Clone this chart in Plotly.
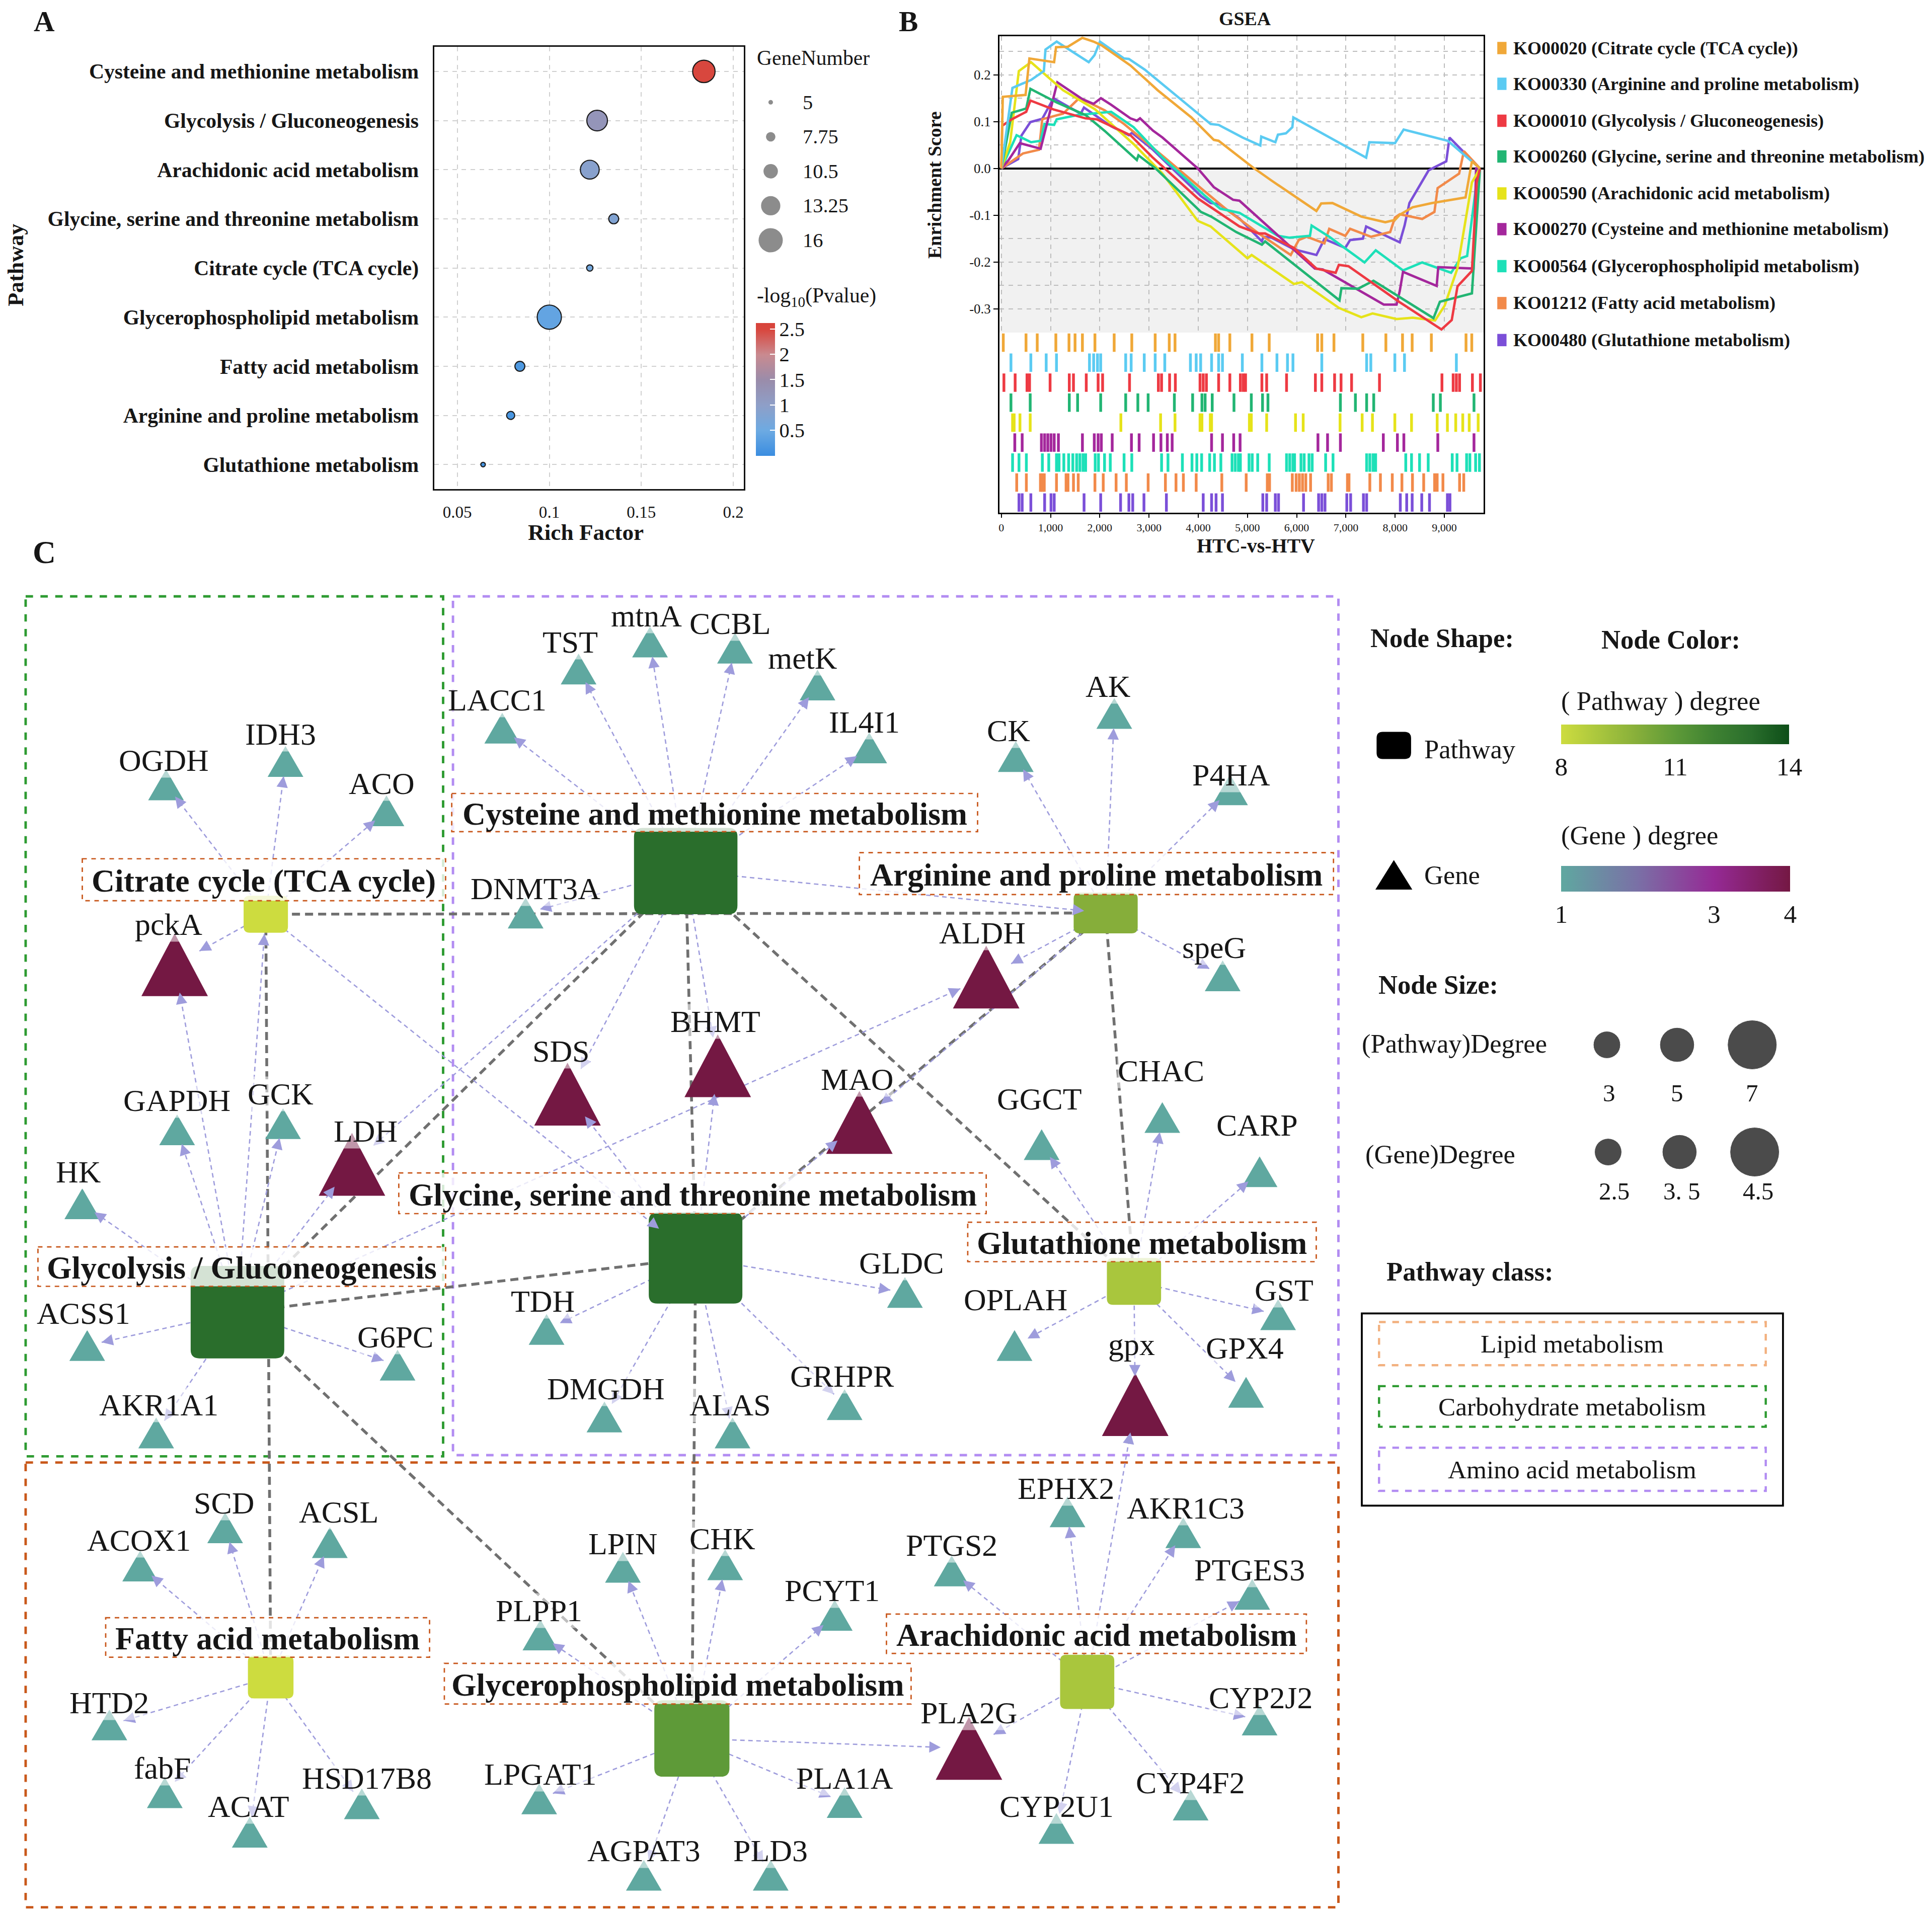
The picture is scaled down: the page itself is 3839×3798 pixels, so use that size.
import math
import plotly.graph_objects as go

# ======================= DATA =======================
# ---- Panel A: KEGG enrichment bubble chart ----
A_pathways = ["Cysteine and methionine metabolism", "Glycolysis / Gluconeogenesis",
              "Arachidonic acid metabolism", "Glycine, serine and threonine metabolism",
              "Citrate cycle (TCA cycle)", "Glycerophospholipid metabolism",
              "Fatty acid metabolism", "Arginine and proline metabolism",
              "Glutathione metabolism"]
A_rich_factor = [0.184, 0.126, 0.122, 0.135, 0.122, 0.100, 0.084, 0.079, 0.064]
A_gene_number = [15, 14, 13, 8, 6, 16, 8, 7, 5]
A_neglog10p = [2.5, 1.25, 0.9, 0.8, 0.6, 0.4, 0.2, 0.15, 0.1]
A_size_legend = [5, 7.75, 10.5, 13.25, 16]
A_size_legend_text = ["5", "7.75", "10.5", "13.25", "16"]
A_x_ticks = [0.05, 0.1, 0.15, 0.2]
A_x_ticktext = ["0.05", "0.1", "0.15", "0.2"]
A_cbar_ticks = [0.5, 1, 1.5, 2, 2.5]
A_cbar_ticktext = ["0.5", "1", "1.5", "2", "2.5"]

# ---- Panel B: GSEA running enrichment scores ----
B_names = ["KO00020 (Citrate cycle (TCA cycle))",
           "KO00330 (Arginine and proline metabolism)",
           "KO00010 (Glycolysis / Gluconeogenesis)",
           "KO00260 (Glycine, serine and threonine metabolism)",
           "KO00590 (Arachidonic acid metabolism)",
           "KO00270 (Cysteine and methionine metabolism)",
           "KO00564 (Glycerophospholipid metabolism)",
           "KO01212 (Fatty acid metabolism)",
           "KO00480 (Glutathione metabolism)"]

es_citrate_x = [0, 29, 492, 570, 1072, 1111, 1352, 1645, 1873, 2036, 2622, 3176, 3860, 4316, 4414, 5098,
                5489, 6401, 6498, 6726, 7313, 7801, 7997, 8094, 8355, 8746, 9430, 9560, 9723]
es_citrate_y = [0, 0.153, 0.157, 0.235, 0.227, 0.259, 0.26, 0.279, 0.271, 0.263, 0.22, 0.167, 0.109, 0.061,
                0.059, 0.003, -0.026, -0.091, -0.075, -0.074, -0.103, -0.115, -0.11, -0.099, -0.083,
                -0.074, -0.062, 0.015, 0]
es_arginine_x = [0, 225, 603, 864, 896, 1124, 1775, 1893, 2003, 2492, 2590, 2915, 3860, 4186, 4251, 4414,
                 4902, 5261, 5280, 5567, 5619, 5782, 5912, 5932, 7411, 7476, 7997, 8173, 9072, 9723]
es_arginine_y = [0, 0.172, 0.189, 0.208, 0.254, 0.271, 0.227, 0.242, 0.271, 0.235, 0.234, 0.211, 0.129,
                 0.102, 0.095, 0.093, 0.066, 0.049, 0.068, 0.056, 0.072, 0.075, 0.088, 0.109, 0.023,
                 0.056, 0.054, 0.083, 0.059, 0]
es_glycolysis_x = [0, 16, 212, 505, 590, 1059, 1710, 1938, 2622, 3078, 3990, 4381, 4837, 5228, 5358, 5945,
                   6401, 6791, 6857, 7052, 8094, 8941, 9150, 9267, 9560, 9658, 9723]
es_glycolysis_y = [0, 0.091, 0.105, 0.121, 0.145, 0.126, 0.107, 0.105, 0.071, 0.023, -0.064, -0.091,
                   -0.124, -0.139, -0.139, -0.17, -0.214, -0.223, -0.206, -0.209, -0.286, -0.344,
                   -0.324, -0.252, -0.219, -0.03, 0]
es_glycine_x = [0, 212, 505, 590, 1124, 1710, 2101, 2752, 2785, 3143, 4055, 4264, 4772, 5293, 5358, 6870,
                6909, 7248, 7560, 8779, 8909, 9560, 9723]
es_glycine_y = [0, 0.119, 0.128, 0.17, 0.141, 0.114, 0.08, 0.018, 0.028, -0.001, -0.093, -0.103, -0.136,
                -0.163, -0.156, -0.282, -0.256, -0.257, -0.24, -0.32, -0.285, -0.267, 0]
es_arachidonic_x = [0, 179, 355, 603, 1254, 1906, 2687, 3274, 3990, 4251, 5000, 5085, 5945, 6107, 6857,
                    7313, 7541, 8029, 8355, 8811, 9007, 9267, 9560, 9723]
es_arachidonic_y = [0, 0.056, 0.208, 0.227, 0.167, 0.126, 0.052, -0.011, -0.112, -0.124, -0.192, -0.185,
                    -0.247, -0.243, -0.298, -0.318, -0.31, -0.322, -0.319, -0.325, -0.293, -0.213,
                    -0.03, 0]
es_cysteine_x = [0, 147, 375, 798, 1137, 1645, 1873, 2023, 2231, 2622, 2752, 2818, 3078, 3274, 3990, 4316,
                 4707, 4837, 6368, 6531, 7769, 8029, 8094, 8160, 8844, 8876, 9593, 9645, 9723]
es_cysteine_y = [0, 0.018, 0.054, 0.042, 0.184, 0.148, 0.138, 0.15, 0.136, 0.107, 0.102, 0.107, 0.081,
                 0.066, 0, -0.04, -0.067, -0.069, -0.214, -0.216, -0.291, -0.291, -0.262, -0.221,
                 -0.251, -0.211, -0.214, 0, 0]
es_glycero_x = [0, 244, 309, 603, 798, 876, 1072, 1124, 1547, 1840, 2231, 2687, 3274, 4121, 4446, 4837,
                5033, 5619, 5847, 6270, 6303, 6661, 7378, 7606, 8160, 8550, 9137, 9332, 9463, 9691]
es_glycero_y = [0, 0.054, 0.071, 0.056, 0.059, 0.095, 0.093, 0.105, 0.114, 0.117, 0.121, 0.088, 0.023,
                -0.057, -0.086, -0.095, -0.107, -0.144, -0.148, -0.144, -0.122, -0.146, -0.201,
                -0.175, -0.218, -0.201, -0.223, -0.192, -0.187, 0]
es_fatty_x = [0, 440, 766, 831, 1254, 1580, 1775, 2101, 2492, 3274, 4186, 4577, 5228, 5358, 5879, 6042,
              6205, 6563, 6661, 6987, 7085, 7508, 7899, 7997, 8094, 8550, 8798, 8863, 9300, 9397, 9723]
es_fatty_y = [0, 0.032, 0.04, 0.105, 0.117, 0.15, 0.141, 0.124, 0.095, 0.027, -0.054, -0.088, -0.139,
              -0.148, -0.185, -0.153, -0.146, -0.16, -0.129, -0.144, -0.129, -0.146, -0.136, -0.105,
              -0.098, -0.108, -0.093, -0.042, -0.011, 0.037, 0]
es_glutathione_x = [0, 342, 407, 590, 831, 1059, 1612, 1678, 2231, 2590, 2655, 3078, 4055, 4251, 4414,
                    4837, 5293, 5326, 5489, 5945, 6401, 6563, 6987, 7085, 7345, 7411, 8094, 8192, 8290,
                    8681, 9039, 9104, 9723]
es_glutathione_y = [0, 0.02, 0.07, 0.099, 0.106, 0.15, 0.117, 0.13, 0.09, 0.071, 0.076, 0.04, -0.059,
                    -0.074, -0.076, -0.107, -0.156, -0.146, -0.148, -0.173, -0.185, -0.151, -0.17,
                    -0.153, -0.15, -0.124, -0.158, -0.122, -0.074, -0.004, 0.015, 0.066, 0]

hits_citrate = [39, 501, 729, 1107, 1374, 1497, 1647, 1901, 2292, 2650, 3125, 3411, 3528, 4349, 4414,
                4642, 5091, 5442, 6425, 6510, 6757, 7343, 7812, 8150, 8346, 8736, 9440, 9557]
hits_arginine = [195, 599, 911, 1120, 1790, 1875, 1953, 2018, 2526, 2637, 2903, 3125, 3320, 3841, 3958,
                 4049, 4271, 4414, 4492, 4896, 5293, 5599, 5813, 5924, 6510, 7421, 7506, 7994, 8190, 9244]
hits_glycolysis = [52, 280, 521, 573, 990, 1380, 1465, 1725, 1966, 2057, 2604, 3190, 3255, 3418, 3535,
                   4036, 4101, 4166, 4414, 4642, 4856, 4915, 4961, 5293, 5390, 5794, 6380, 6510, 6770,
                   6901, 7115, 7682, 8951, 9179, 9244, 9309, 9570, 9732]
hits_glycine = [195, 586, 1380, 1549, 2018, 2526, 2773, 2982, 3515, 3886, 4075, 4140, 4284, 4726, 5078,
                5306, 5416, 6888, 7193, 7421, 7565, 8775, 8919, 9602]
hits_arachidonic = [228, 260, 378, 586, 2428, 3235, 3528, 4036, 4075, 4245, 4271, 5039, 5078, 5390,
                    5976, 6132, 6881, 7330, 7539, 7994, 8333, 8854, 9062, 9231, 9374, 9505, 9687]
hits_cysteine = [273, 423, 814, 879, 944, 1009, 1074, 1159, 1647, 1888, 1966, 2031, 2252, 2643, 2799,
                 3092, 3242, 3372, 3470, 4271, 4492, 4720, 4850, 6432, 6627, 6888, 7760, 8046, 8177,
                 8867, 9602]
hits_glycero = [228, 358, 508, 833, 963, 1120, 1172, 1269, 1367, 1452, 1530, 1595, 1660, 1712, 1907,
                1973, 2096, 2213, 2493, 2650, 3255, 3385, 3678, 3873, 3971, 4069, 4232, 4329, 4459,
                4687, 4752, 4817, 4856, 5032, 5097, 5208, 5442, 5794, 5859, 5924, 5957, 6087, 6152,
                6250, 6315, 6588, 6738, 7421, 7486, 7552, 7604, 8216, 8333, 8496, 8672, 9160, 9257,
                9452, 9518, 9635, 9713]
hits_fatty = [312, 508, 794, 833, 872, 1120, 1315, 1354, 1465, 1562, 1901, 2070, 2331, 2539, 2982, 3333,
              3548, 3698, 3958, 4479, 4974, 5403, 5449, 5911, 5989, 6054, 6119, 6185, 6282, 6640, 6705,
              7031, 7063, 7486, 7701, 7942, 8138, 8352, 8580, 8802, 8854, 8971, 9309, 9394]
hits_glutathione = [358, 423, 599, 879, 1009, 1074, 1680, 2018, 2422, 2591, 2669, 2897, 3353, 4101, 4271,
                    4362, 4492, 5312, 5390, 5566, 5631, 6139, 6445, 6510, 6575, 7018, 7096, 7356, 7421,
                    8105, 8235, 8346, 8541, 8698, 9062, 9114]

B_es_x = [es_citrate_x, es_arginine_x, es_glycolysis_x, es_glycine_x, es_arachidonic_x,
          es_cysteine_x, es_glycero_x, es_fatty_x, es_glutathione_x]
B_es_y = [es_citrate_y, es_arginine_y, es_glycolysis_y, es_glycine_y, es_arachidonic_y,
          es_cysteine_y, es_glycero_y, es_fatty_y, es_glutathione_y]
B_hits = [hits_citrate, hits_arginine, hits_glycolysis, hits_glycine, hits_arachidonic,
          hits_cysteine, hits_glycero, hits_fatty, hits_glutathione]
B_x_ticks = [0, 1000, 2000, 3000, 4000, 5000, 6000, 7000, 8000, 9000]
B_x_ticktext = ["0", "1,000", "2,000", "3,000", "4,000", "5,000", "6,000", "7,000", "8,000", "9,000"]
B_y_ticks = [-0.3, -0.2, -0.1, 0.0, 0.1, 0.2]
B_y_ticktext = ["-0.3", "-0.2", "-0.1", "0.0", "0.1", "0.2"]

# ---- Panel C: pathway-gene network ----
pathway_ids = ["TCA", "GLYC", "CYS", "ARG", "GLYS", "GSH", "FA", "GPL", "ARA"]
pathway_names = ["Citrate cycle (TCA cycle)", "Glycolysis / Gluconeogenesis",
                 "Cysteine and methionine metabolism", "Arginine and proline metabolism",
                 "Glycine, serine and threonine metabolism", "Glutathione metabolism",
                 "Fatty acid metabolism", "Glycerophospholipid metabolism",
                 "Arachidonic acid metabolism"]
pathway_degree = [8, 13, 13, 10, 13, 9, 8, 11, 9]

gene_names = ["OGDH", "IDH3", "ACO", "pckA", "GAPDH", "GCK", "LDH", "HK", "ACSS1", "G6PC", "AKR1A1",
              "TST", "mtnA", "CCBL", "metK", "LACC1", "IL4I1", "AK", "CK", "P4HA", "DNMT3A", "ALDH",
              "speG", "SDS", "BHMT", "MAO", "GGCT", "CHAC", "CARP", "GLDC", "TDH", "OPLAH", "GST",
              "DMGDH", "ALAS", "GRHPR", "gpx", "GPX4",
              "SCD", "ACSL", "ACOX1", "HTD2", "fabF", "ACAT", "HSD17B8", "LPIN", "CHK", "PLPP1",
              "PCYT1", "LPGAT1", "AGPAT3", "PLD3", "PLA1A", "PLA2G", "PTGS2", "EPHX2", "AKR1C3",
              "PTGES3", "CYP2J2", "CYP2U1", "CYP4F2"]
high_degree_genes = ["pckA", "LDH", "ALDH", "SDS", "BHMT", "MAO", "gpx", "PLA2G"]
gene_degree = [4 if g in high_degree_genes else 1 for g in gene_names]

pathway_links = [("TCA", "ARG"), ("TCA", "FA"), ("GLYC", "CYS"), ("GLYC", "GLYS"), ("GLYC", "GPL"),
                 ("CYS", "GLYS"), ("CYS", "GSH"), ("ARG", "GLYS"), ("ARG", "GSH"),
                 ("GLYS", "GPL")]
gene_links = {
    "TCA": ["OGDH", "IDH3", "ACO", "pckA", "GLYS"],
    "GLYC": ["HK", "GAPDH", "pckA", "GCK", "TCA", "LDH", "ACSS1", "G6PC", "AKR1A1", "ALDH"],
    "CYS": ["LACC1", "TST", "mtnA", "CCBL", "metK", "IL4I1", "DNMT3A", "SDS", "BHMT", "ARG", "LDH"],
    "ARG": ["AK", "CK", "P4HA", "speG", "ALDH", "MAO"],
    "GLYS": ["SDS", "BHMT", "MAO", "TDH", "GLDC", "DMGDH", "ALAS", "GRHPR"],
    "GSH": ["GGCT", "CHAC", "CARP", "GST", "GPX4", "OPLAH", "gpx"],
    "FA": ["ACOX1", "SCD", "ACSL", "HTD2", "fabF", "ACAT", "HSD17B8"],
    "GPL": ["PLPP1", "LPIN", "CHK", "PCYT1", "LPGAT1", "AGPAT3", "PLD3", "PLA1A", "PLA2G"],
    "ARA": ["PTGS2", "EPHX2", "AKR1C3", "PTGES3", "CYP2J2", "CYP4F2", "CYP2U1", "PLA2G", "gpx"],
}
legend_pathway_degree = [3, 5, 7]
legend_gene_degree = [2.5, 3.5, 4.5]
legend_gene_degree_text = ["2.5", "3. 5", "4.5"]
pathway_classes = ["Lipid metabolism", "Carbohydrate metabolism", "Amino acid metabolism"]

# ======================= LAYOUT (canvas units: 1568 x 1551 grid) =======================
W, H = 3839, 3798
SW, SH = 1568.0, 1551.0
K = W / SW
OFF = 8 / K          # page body margin (8 px) compensation
FONT = "Liberation Serif"
INK = "#161616"


def fz(v):
    return round(v * K, 1)


def PX(x):
    return (x - OFF) / SW


def PY(y):
    return 1 - (y - OFF) / SH


# network node layout: centre x, centre y, width, height
PATH_LAYOUT = {
    "TCA": (215, 742, 36, 30), "GLYC": (192, 1065, 76, 75), "CYS": (556, 707, 84, 70),
    "ARG": (897, 741, 52, 33), "GLYS": (564, 1021, 76, 74), "GSH": (920, 1040, 44, 38),
    "FA": (219, 1361, 37, 35), "GPL": (561, 1411, 61, 62), "ARA": (882, 1365, 44, 44),
}
# label boxes: centre x, centre y, width, height
PATH_LABEL_BOX = {
    "TCA": (213.5, 714, 295, 34), "CYS": (579.5, 659.5, 427, 31), "ARG": (889.5, 709, 385, 34),
    "GLYS": (561.5, 968.5, 477, 33), "GLYC": (195.5, 1028, 331, 32), "GSH": (926.5, 1008, 283, 32),
    "FA": (216.5, 1329, 263, 32), "GPL": (549.5, 1366.5, 379, 33), "ARA": (889.5, 1326, 341, 32),
}
# gene triangle centre x, y ; label centre x, y
GENE_LAYOUT = {
    "OGDH": (134, 637, 132, 617), "IDH3": (231, 618, 227, 596), "ACO": (313, 658, 309, 636),
    "pckA": (141, 783, 136, 750), "GAPDH": (143, 917, 143, 893), "GCK": (229, 912, 227, 888),
    "LDH": (285, 945, 296, 918), "HK": (66, 977, 63, 951), "ACSS1": (70, 1092, 67, 1066),
    "G6PC": (322, 1108, 320, 1085), "AKR1A1": (126, 1163, 128, 1140),
    "TST": (469, 543, 462, 521), "mtnA": (527, 521, 524, 500), "CCBL": (596, 526, 592, 506),
    "metK": (663, 556, 651, 534), "LACC1": (407, 591, 403, 568), "IL4I1": (705, 607, 701, 586),
    "AK": (904, 579, 899, 557), "CK": (824, 614, 818, 593), "P4HA": (998, 641, 999, 629),
    "DNMT3A": (426, 741, 434, 721), "ALDH": (800, 793, 797, 757), "speG": (992, 792, 985, 769),
    "SDS": (460, 888, 455, 853), "BHMT": (582, 865, 580, 829), "MAO": (697, 911, 695, 876),
    "GGCT": (845, 929, 843, 892), "CHAC": (943, 907, 942, 869), "CARP": (1022, 951, 1020, 913),
    "GLDC": (734, 1049, 731, 1025), "TDH": (443, 1079, 440, 1056), "OPLAH": (823, 1092, 824, 1055),
    "GST": (1037, 1067, 1042, 1047), "DMGDH": (490, 1150, 491, 1127), "ALAS": (594, 1163, 592, 1140),
    "GRHPR": (685, 1140, 683, 1117), "gpx": (921, 1140, 918, 1091), "GPX4": (1011, 1130, 1010, 1094),
    "SCD": (182, 1240, 181, 1220), "ACSL": (267, 1252, 274, 1227), "ACOX1": (113, 1271, 112, 1250),
    "HTD2": (88, 1400, 88, 1382), "fabF": (133, 1455, 131, 1435), "ACAT": (202, 1487, 201, 1466),
    "HSD17B8": (293, 1464, 297, 1443), "LPIN": (505, 1272, 505, 1253), "CHK": (588, 1270, 586, 1249),
    "PLPP1": (438, 1327, 437, 1307), "PCYT1": (677, 1311, 675, 1291), "LPGAT1": (437, 1460, 438, 1440),
    "AGPAT3": (522, 1522, 522, 1502), "PLD3": (625, 1522, 625, 1502), "PLA1A": (685, 1463, 685, 1443),
    "PLA2G": (786, 1419, 786, 1390), "PTGS2": (772, 1275, 772, 1254), "EPHX2": (866, 1227, 865, 1208),
    "AKR1C3": (960, 1244, 962, 1224), "PTGES3": (1016, 1294, 1014, 1274),
    "CYP2J2": (1022, 1396, 1023, 1378), "CYP2U1": (857, 1484, 857, 1466),
    "CYP4F2": (966, 1465, 966, 1447),
}

CS_A = [[0.0, "#3A8DE0"], [0.19, "#6DAAE2"], [0.38, "#8E9FC8"], [0.57, "#9A8CAA"],
        [0.76, "#C98A90"], [0.95, "#D8473E"], [1.0, "#D8433A"]]
CS_P = [[0.0, "#CDDC3F"], [1 / 6, "#A9C63D"], [2 / 6, "#86AE3A"], [3 / 6, "#5E9A38"],
        [4 / 6, "#3F8232"], [5 / 6, "#2A6E2C"], [1.0, "#0D4E18"]]
CS_G = [[0.0, "#5FA8A0"], [1 / 3, "#7A70A6"], [2 / 3, "#952A95"], [1.0, "#741843"]]
B_colors = ["#F0A838", "#5BCBF2", "#EE3A43", "#22B573", "#E6E31A", "#A4279C", "#1DE0B8",
            "#F28A4A", "#7B4FD8"]


def hex_rgb(h):
    h = h.lstrip("#")
    return tuple(int(h[i:i + 2], 16) for i in (0, 2, 4))


def interp(cs, t):
    t = max(0.0, min(1.0, t))
    for (t0, c0), (t1, c1) in zip(cs[:-1], cs[1:]):
        if t0 <= t <= t1:
            f = 0 if t1 == t0 else (t - t0) / (t1 - t0)
            a, b = hex_rgb(c0), hex_rgb(c1)
            return "rgb(%d,%d,%d)" % tuple(round(a[i] + (b[i] - a[i]) * f) for i in range(3))
    return cs[-1][1]


fig = go.Figure()
annotations = []
shapes = []


def text(x, y, s, size, bold=False, anchor="center", angle=0, color=INK, bg=None, yanchor="middle"):
    d = dict(x=x, y=y, xref="x5", yref="y5", text=f"<b>{s}</b>" if bold else s,
             showarrow=False, xanchor=anchor, yanchor=yanchor, textangle=angle,
             font=dict(family=FONT, size=fz(size), color=color))
    if bg:
        d.update(bgcolor=bg, borderpad=0)
    annotations.append(d)


# ======================= PANEL A =======================
def bubble_d(g):
    return 3.7 + (g - 5) * 1.45


fig.add_trace(go.Scatter(
    x=A_rich_factor, y=A_pathways, mode="markers", xaxis="x", yaxis="y",
    marker=dict(size=[bubble_d(g) * K for g in A_gene_number], color=A_neglog10p,
                colorscale=CS_A, cmin=0, cmax=2.62, line=dict(color="#1a1a1a", width=2.2), opacity=1,
                colorbar=dict(x=PX(613), xanchor="left", y=PY(262), yanchor="top",
                              lenmode="pixels", len=108 * K, thickness=15.5 * K,
                              xpad=0, ypad=0, outlinewidth=0,
                              tickvals=A_cbar_ticks, ticktext=A_cbar_ticktext,
                              ticks="inside", tickcolor="white", ticklen=10, tickwidth=2,
                              tickfont=dict(family=FONT, size=fz(16.5), color=INK))),
    showlegend=False, hoverinfo="skip"))

# size legend
leg_y = [83, 111, 139, 167, 195]
fig.add_trace(go.Scatter(
    x=[625] * len(A_size_legend), y=leg_y, mode="markers", xaxis="x5", yaxis="y5",
    marker=dict(size=[bubble_d(g) * K for g in A_size_legend], color="#5b5b5b", line=dict(width=0)),
    showlegend=False, hoverinfo="skip"))
for yy, t in zip(leg_y, A_size_legend_text):
    text(650, yy, t, 16.5, anchor="left")
text(613, 47, "GeneNumber", 17, anchor="left")
text(613, 241, "-log<sub>10</sub>(Pvalue)", 17, anchor="left")
text(12, 215, "Pathway", 18, bold=True, angle=-90)
text(475, 432, "Rich Factor", 18.5, bold=True)
text(35, OFF + 0.3, "A", 23.5, bold=True, yanchor="top")

# ======================= PANEL B =======================
shapes.append(dict(type="rect", xref="x2 domain", yref="y2", x0=0, x1=1, y0=-0.351, y1=0,
                   fillcolor="#F1F1F1", line=dict(width=0), layer="below"))
for i in range(len(B_names) - 1, -1, -1):
    fig.add_trace(go.Scatter(x=B_es_x[i], y=B_es_y[i], mode="lines", xaxis="x2", yaxis="y2",
                             line=dict(color=B_colors[i], width=4.8), showlegend=False,
                             hoverinfo="skip"))
for i, hits in enumerate(B_hits):
    xs, ys = [], []
    for h in hits:
        xs += [h, h, None]
        ys += [i + 0.04, i + 0.96, None]
    fig.add_trace(go.Scatter(x=xs, y=ys, mode="lines", xaxis="x4", yaxis="y4",
                             line=dict(color=B_colors[i], width=5.5), showlegend=False,
                             hoverinfo="skip"))

leg_b_y = [39, 68, 98, 127, 157, 186, 216, 246, 276]
for yy, name, col in zip(leg_b_y, B_names, B_colors):
    shapes.append(dict(type="rect", xref="x5", yref="y5", x0=1215, x1=1222.5, y0=yy - 5, y1=yy + 5,
                       fillcolor=col, line=dict(width=0)))
    text(1227, yy, name, 14.7, bold=True, anchor="left")
text(1010, 15, "GSEA", 15.5, bold=True)
text(758, 150, "Enrichment Score", 15.5, bold=True, angle=-90)
text(1019, 443, "HTC-vs-HTV", 16.3, bold=True)
text(737, OFF + 0.3, "B", 23.5, bold=True, yanchor="top")

# ======================= PANEL C =======================
text(35, 448, "C", 26, bold=True)

# group boxes
for (x0, y0, x1, y1, col) in [(20, 484, 359, 1182, "#2E9B32"), (367, 484, 1086, 1181, "#B28CF2"),
                              (20, 1187, 1086, 1548, "#C9581A")]:
    shapes.append(dict(type="rect", xref="x5", yref="y5", x0=x0, x1=x1, y0=y0, y1=y1,
                       line=dict(color=col, width=fz(2.0), dash="dash"), layer="below"))

node_pos = {}
node_r = {}
for pid in pathway_ids:
    x, y, w, h = PATH_LAYOUT[pid]
    node_pos[pid] = (x, y)
    node_r[pid] = min(w, h) / 2 + 1
for g, d in zip(gene_names, gene_degree):
    x, y, lx, ly = GENE_LAYOUT[g]
    node_pos[g] = (x, y)
    node_r[g] = 23 if d >= 3 else 12

# pathway-pathway edges
ex, ey = [], []
for a, b in pathway_links:
    (x0, y0), (x1, y1) = node_pos[a], node_pos[b]
    ex += [x0, x1, None]
    ey += [y0, y1, None]
fig.add_trace(go.Scatter(x=ex, y=ey, mode="lines", xaxis="x5", yaxis="y5",
                         line=dict(color="#707070", width=fz(2.3), dash="16px,10px"),
                         showlegend=False, hoverinfo="skip"))

# pathway -> gene edges with arrowheads
ex, ey = [], []
ARROW = "#9E9CDC"
for src, targets in gene_links.items():
    sx, sy = node_pos[src]
    for t in targets:
        tx, ty = node_pos[t]
        L = math.hypot(tx - sx, ty - sy)
        ux, uy = (tx - sx) / L, (ty - sy) / L
        px_, py_ = tx - ux * node_r[t], ty - uy * node_r[t]
        ex += [sx, px_, None]
        ey += [sy, py_, None]
        annotations.append(dict(x=px_, y=py_, ax=px_ - ux * 7, ay=py_ - uy * 7, xref="x5", yref="y5",
                                axref="x5", ayref="y5", text="", showarrow=True, arrowhead=2,
                                arrowsize=1.5, arrowwidth=3, arrowcolor=ARROW, standoff=0,
                                startstandoff=0))
fig.add_trace(go.Scatter(x=ex, y=ey, mode="lines", xaxis="x5", yaxis="y5",
                         line=dict(color=ARROW, width=fz(1.05), dash="9px,7px"),
                         showlegend=False, hoverinfo="skip"))


def tri_path(x, y, w, h):
    return f"M {x - w / 2},{y + h / 2} L {x + w / 2},{y + h / 2} L {x},{y - h / 2} Z"


def rrect_path(x0, y0, x1, y1, r):
    return (f"M {x0 + r},{y0} L {x1 - r},{y0} Q {x1},{y0} {x1},{y0 + r} L {x1},{y1 - r} "
            f"Q {x1},{y1} {x1 - r},{y1} L {x0 + r},{y1} Q {x0},{y1} {x0},{y1 - r} "
            f"L {x0},{y0 + r} Q {x0},{y0} {x0 + r},{y0} Z")


# pathway nodes
for pid, deg in zip(pathway_ids, pathway_degree):
    x, y, w, h = PATH_LAYOUT[pid]
    r = 7 if min(w, h) > 50 else 5
    shapes.append(dict(type="path", xref="x5", yref="y5",
                       path=rrect_path(x - w / 2, y - h / 2, x + w / 2, y + h / 2, r),
                       fillcolor=interp(CS_P, (deg - 8) / 6), line=dict(width=0), layer="above"))
# gene nodes
for g, deg in zip(gene_names, gene_degree):
    x, y, lx, ly = GENE_LAYOUT[g]
    w, h = (54, 51) if deg >= 3 else (29, 25)
    shapes.append(dict(type="path", xref="x5", yref="y5", path=tri_path(x, y, w, h),
                       fillcolor=interp(CS_G, (deg - 1) / 3), line=dict(width=0), layer="above"))
    text(lx, ly, g, 25.3, bg="rgba(255,255,255,0.55)")
# pathway labels
for pid, name in zip(pathway_ids, pathway_names):
    cx, cy, w, h = PATH_LABEL_BOX[pid]
    shapes.append(dict(type="rect", xref="x5", yref="y5", x0=cx - w / 2, x1=cx + w / 2,
                       y0=cy - h / 2, y1=cy + h / 2, fillcolor="rgba(255,255,255,0.8)",
                       line=dict(color="#C8561A", width=fz(1.1), dash="dash"), layer="above"))
    text(cx, cy + 1, name, 26, bold=True)

# invisible traces carrying the degree colour bars
fig.add_trace(go.Scatter(
    x=[node_pos[p][0] for p in pathway_ids], y=[node_pos[p][1] for p in pathway_ids],
    mode="markers", xaxis="x5", yaxis="y5", showlegend=False, hoverinfo="skip",
    marker=dict(size=2, opacity=0, color=pathway_degree, colorscale=CS_P, cmin=8, cmax=14,
                colorbar=dict(orientation="h", x=PX(1267), xanchor="left", y=PY(588), yanchor="top",
                              lenmode="pixels", len=185 * K, thickness=16 * K, xpad=0, ypad=0,
                              outlinewidth=0, tickvals=[8, 11, 14], ticks="",
                              tickfont=dict(family=FONT, size=fz(21), color=INK)))))
fig.add_trace(go.Scatter(
    x=[node_pos[g][0] for g in gene_names], y=[node_pos[g][1] for g in gene_names],
    mode="markers", xaxis="x5", yaxis="y5", showlegend=False, hoverinfo="skip",
    marker=dict(size=2, opacity=0, color=gene_degree, colorscale=CS_G, cmin=1, cmax=4,
                colorbar=dict(orientation="h", x=PX(1267), xanchor="left", y=PY(703), yanchor="top",
                              lenmode="pixels", len=186 * K, thickness=21 * K, xpad=0, ypad=0,
                              outlinewidth=0, tickvals=[1, 3, 4], ticks="",
                              tickfont=dict(family=FONT, size=fz(21), color=INK)))))

# ---- network legend ----
text(1170, 518, "Node Shape:", 21.5, bold=True)
text(1356, 519, "Node Color:", 21.5, bold=True)
shapes.append(dict(type="path", xref="x5", yref="y5", path=rrect_path(1117, 594, 1145, 616, 5),
                   fillcolor="black", line=dict(width=0)))
text(1155, 608, "Pathway", 21.5, anchor="left")
shapes.append(dict(type="path", xref="x5", yref="y5", path=tri_path(1131, 710, 30, 24),
                   fillcolor="black", line=dict(width=0)))
text(1155, 710, "Gene", 21.5, anchor="left")
text(1266, 569, "( Pathway ) degree", 21.5, anchor="left")
text(1266, 678, "(Gene ) degree", 21.5, anchor="left")
text(1167, 799, "Node Size:", 21.5, bold=True)
text(1104, 847, "(Pathway)Degree", 21.5, anchor="left")
text(1107, 937, "(Gene)Degree", 21.5, anchor="left")


def legend_dot(v):
    return 24.25 - 3 * v + 0.75 * v * v


fig.add_trace(go.Scatter(x=[1304, 1361, 1422], y=[848, 848, 848], mode="markers", xaxis="x5", yaxis="y5",
                         marker=dict(size=[legend_dot(v) * K for v in legend_pathway_degree], color="black"),
                         showlegend=False, hoverinfo="skip"))
fig.add_trace(go.Scatter(x=[1305, 1363, 1424], y=[935, 935, 935], mode="markers", xaxis="x5", yaxis="y5",
                         marker=dict(size=[legend_dot(2 * v - 2) * K for v in legend_gene_degree],
                                     color="black"),
                         showlegend=False, hoverinfo="skip"))
for xx, v in zip([1306, 1361, 1422], legend_pathway_degree):
    text(xx, 887, str(v), 20)
for xx, t in zip([1310, 1365, 1427], legend_gene_degree_text):
    text(xx, 967, t, 20)
text(1193, 1032, "Pathway class:", 21.5, bold=True)
shapes.append(dict(type="rect", xref="x5", yref="y5", x0=1105, x1=1447, y0=1066, y1=1222,
                   line=dict(color="black", width=fz(1.5))))
for (y0, y1, col), name in zip([(1073, 1108, "#F2B07E"), (1125, 1158, "#2E9B32"),
                                (1175, 1210, "#B28CF2")], pathway_classes):
    shapes.append(dict(type="rect", xref="x5", yref="y5", x0=1119, x1=1433, y0=y0, y1=y1,
                       line=dict(color=col, width=fz(1.8), dash="dash")))
    text(1276, (y0 + y1) / 2, name, 21)

# ======================= AXES =======================
grid = dict(showgrid=True, gridcolor="#D0D0D0", griddash="dash", gridwidth=2)
fig.update_layout(
    width=W, height=H, margin=dict(l=0, r=0, t=0, b=0),
    paper_bgcolor="white", plot_bgcolor="rgba(0,0,0,0)", showlegend=False,
    font=dict(family=FONT, size=fz(14), color=INK),
    xaxis=dict(domain=[PX(352), PX(603)], range=[0.0376, 0.2056], anchor="y",
               tickmode="array", tickvals=A_x_ticks, ticktext=A_x_ticktext, ticks="",
               showline=True, mirror=True, linecolor="#111", linewidth=3, zeroline=False,
               tickfont=dict(family=FONT, size=fz(13.5), color=INK), ticklabelstandoff=14, **grid),
    yaxis=dict(domain=[PY(397), PY(38)], type="category", categoryorder="array",
               categoryarray=A_pathways[::-1], range=[-0.5, 8.5], anchor="x", ticks="",
               showline=True, mirror=True, linecolor="#111", linewidth=3, zeroline=False,
               tickfont=dict(family=FONT, size=fz(17), color=INK, weight="bold"),
               ticklabelstandoff=20, **grid),
    xaxis2=dict(domain=[PX(810.7), PX(1204)], range=[-40, 9800], anchor="y2", side="top",
                tickmode="linear", tick0=0, dtick=1000, showticklabels=False, ticks="",
                showline=True, linecolor="black", linewidth=2.5, zeroline=False,
                showgrid=True, gridcolor="#BDBDBD", griddash="dash", gridwidth=2),
    yaxis2=dict(domain=[PY(270), PY(29.2)], range=[-0.351, 0.283], anchor="x2",
                tickmode="array", tickvals=B_y_ticks, ticktext=B_y_ticktext,
                ticks="outside", ticklen=9, tickwidth=2, tickcolor="black",
                showline=True, mirror=True, linecolor="black", linewidth=2.5,
                zeroline=True, zerolinecolor="black", zerolinewidth=4,
                showgrid=True, gridcolor="#BDBDBD", griddash="dash", gridwidth=2,
                minor=dict(tickmode="linear", tick0=0, dtick=0.05, showgrid=True, gridcolor="#BDBDBD",
                           griddash="dash", gridwidth=2, ticks=""),
                tickfont=dict(family=FONT, size=fz(11), color=INK)),
    xaxis4=dict(domain=[PX(810.7), PX(1204)], range=[-40, 9800], anchor="y4",
                tickmode="array", tickvals=B_x_ticks, ticktext=B_x_ticktext,
                ticks="outside", ticklen=8, tickwidth=2, tickcolor="black",
                showline=True, linecolor="black", linewidth=2.5, zeroline=False, showgrid=False,
                tickfont=dict(family=FONT, size=fz(9), color=INK)),
    yaxis4=dict(domain=[PY(416), PY(270)], range=[9, 0], anchor="x4", showticklabels=False,
                ticks="", showgrid=False, zeroline=False, showline=True, mirror=True,
                linecolor="black", linewidth=2.5),
    xaxis5=dict(domain=[0, 1], range=[OFF, SW + OFF], anchor="y5", visible=False, fixedrange=True),
    yaxis5=dict(domain=[0, 1], range=[SH + OFF, OFF], anchor="x5", visible=False, fixedrange=True),
    annotations=annotations, shapes=shapes,
)

fig.write_html("out.html")
